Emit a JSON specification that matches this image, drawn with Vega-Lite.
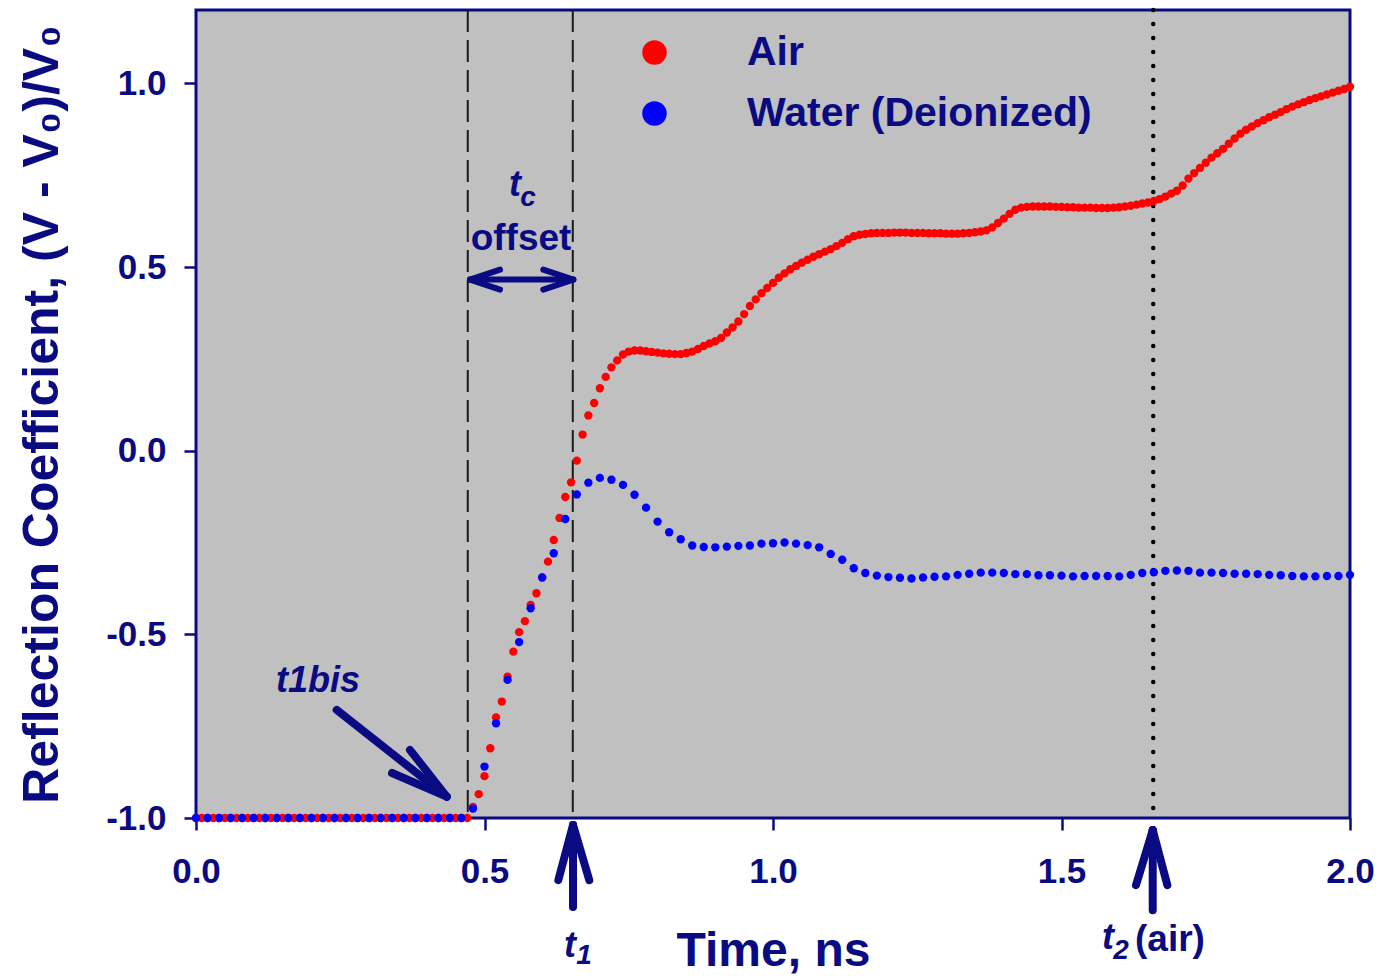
{
"$schema":"https://vega.github.io/schema/vega-lite/v6.json",
"width":1154,"height":808,
"autosize":{"type":"none"},
"padding":{"left":196,"top":10,"right":34,"bottom":162},
"background":"#ffffff",
"config":{
 "view":{"fill":"#c0c0c0","stroke":"#0a0a82","strokeWidth":3},
 "font":"Liberation Sans",
 "axis":{"domain":false,"grid":false,"tickColor":"#0a0a82","tickWidth":2.5,"tickSize":12,"labelFont":"Liberation Sans","labelFontSize":35,"labelFontWeight":"bold","labelColor":"#0a0a82","titleFont":"Liberation Sans","titleFontWeight":"bold","titleColor":"#0a0a82"}
},
"datasets":{
 "dashed":[{"time":0.471},{"time":0.653}],
 "dotted":[{"time":1.659}],
 "air":[
 {"time":0.00,"value":-1},{"time":0.01,"value":-1},{"time":0.02,"value":-1},{"time":0.03,"value":-1},{"time":0.04,"value":-1},{"time":0.05,"value":-1},{"time":0.06,"value":-1},{"time":0.07,"value":-1},{"time":0.08,"value":-1},{"time":0.09,"value":-1},
 {"time":0.10,"value":-1},{"time":0.11,"value":-1},{"time":0.12,"value":-1},{"time":0.13,"value":-1},{"time":0.14,"value":-1},{"time":0.15,"value":-1},{"time":0.16,"value":-1},{"time":0.17,"value":-1},{"time":0.18,"value":-1},{"time":0.19,"value":-1},
 {"time":0.20,"value":-1},{"time":0.21,"value":-1},{"time":0.22,"value":-1},{"time":0.23,"value":-1},{"time":0.24,"value":-1},{"time":0.25,"value":-1},{"time":0.26,"value":-1},{"time":0.27,"value":-1},{"time":0.28,"value":-1},{"time":0.29,"value":-1},
 {"time":0.30,"value":-1},{"time":0.31,"value":-1},{"time":0.32,"value":-1},{"time":0.33,"value":-1},{"time":0.34,"value":-1},{"time":0.35,"value":-1},{"time":0.36,"value":-1},{"time":0.37,"value":-1},{"time":0.38,"value":-1},{"time":0.39,"value":-1},
 {"time":0.40,"value":-1},{"time":0.41,"value":-1},{"time":0.42,"value":-1},{"time":0.43,"value":-1},{"time":0.44,"value":-1},{"time":0.45,"value":-1},{"time":0.46,"value":-1},{"time":0.47,"value":-1},{"time":0.48,"value":-0.97},{"time":0.49,"value":-0.935},
 {"time":0.50,"value":-0.886},{"time":0.51,"value":-0.81},{"time":0.52,"value":-0.726},{"time":0.53,"value":-0.683},{"time":0.54,"value":-0.615},{"time":0.55,"value":-0.547},{"time":0.56,"value":-0.494},{"time":0.57,"value":-0.464},{"time":0.58,"value":-0.42},{"time":0.59,"value":-0.388},
 {"time":0.60,"value":-0.345},{"time":0.61,"value":-0.302},{"time":0.62,"value":-0.243},{"time":0.63,"value":-0.183},{"time":0.64,"value":-0.126},{"time":0.65,"value":-0.086},{"time":0.66,"value":-0.027},{"time":0.67,"value":0.044},{"time":0.68,"value":0.096},{"time":0.69,"value":0.13},
 {"time":0.70,"value":0.17},{"time":0.71,"value":0.201},{"time":0.72,"value":0.227},{"time":0.73,"value":0.246},{"time":0.74,"value":0.262},{"time":0.75,"value":0.27},{"time":0.76,"value":0.273},{"time":0.77,"value":0.273},{"time":0.78,"value":0.271},{"time":0.79,"value":0.269},
 {"time":0.80,"value":0.267},{"time":0.81,"value":0.265},{"time":0.82,"value":0.264},{"time":0.83,"value":0.263},{"time":0.84,"value":0.263},{"time":0.85,"value":0.266},{"time":0.86,"value":0.27},{"time":0.87,"value":0.277},{"time":0.88,"value":0.285},{"time":0.89,"value":0.292},
 {"time":0.90,"value":0.298},{"time":0.91,"value":0.307},{"time":0.92,"value":0.322},{"time":0.93,"value":0.336},{"time":0.94,"value":0.352},{"time":0.95,"value":0.372},{"time":0.96,"value":0.394},{"time":0.97,"value":0.412},{"time":0.98,"value":0.429},{"time":0.99,"value":0.443},
 {"time":1.00,"value":0.457},{"time":1.01,"value":0.471},{"time":1.02,"value":0.483},{"time":1.03,"value":0.494},{"time":1.04,"value":0.503},{"time":1.05,"value":0.512},{"time":1.06,"value":0.52},{"time":1.07,"value":0.528},{"time":1.08,"value":0.535},{"time":1.09,"value":0.542},
 {"time":1.10,"value":0.549},{"time":1.11,"value":0.557},{"time":1.12,"value":0.566},{"time":1.13,"value":0.576},{"time":1.14,"value":0.584},{"time":1.15,"value":0.588},{"time":1.16,"value":0.59},{"time":1.17,"value":0.592},{"time":1.18,"value":0.593},{"time":1.19,"value":0.593},
 {"time":1.20,"value":0.593},{"time":1.21,"value":0.594},{"time":1.22,"value":0.594},{"time":1.23,"value":0.594},{"time":1.24,"value":0.593},{"time":1.25,"value":0.593},{"time":1.26,"value":0.593},{"time":1.27,"value":0.592},{"time":1.28,"value":0.592},{"time":1.29,"value":0.592},
 {"time":1.30,"value":0.591},{"time":1.31,"value":0.591},{"time":1.32,"value":0.591},{"time":1.33,"value":0.592},{"time":1.34,"value":0.593},{"time":1.35,"value":0.595},{"time":1.36,"value":0.597},{"time":1.37,"value":0.6},{"time":1.38,"value":0.608},{"time":1.39,"value":0.62},
 {"time":1.40,"value":0.632},{"time":1.41,"value":0.645},{"time":1.42,"value":0.656},{"time":1.43,"value":0.662},{"time":1.44,"value":0.664},{"time":1.45,"value":0.665},{"time":1.46,"value":0.665},{"time":1.47,"value":0.665},{"time":1.48,"value":0.665},{"time":1.49,"value":0.664},
 {"time":1.50,"value":0.664},{"time":1.51,"value":0.663},{"time":1.52,"value":0.663},{"time":1.53,"value":0.662},{"time":1.54,"value":0.662},{"time":1.55,"value":0.662},{"time":1.56,"value":0.661},{"time":1.57,"value":0.661},{"time":1.58,"value":0.661},{"time":1.59,"value":0.662},
 {"time":1.60,"value":0.663},{"time":1.61,"value":0.665},{"time":1.62,"value":0.667},{"time":1.63,"value":0.67},{"time":1.64,"value":0.673},{"time":1.65,"value":0.676},{"time":1.66,"value":0.68},{"time":1.67,"value":0.685},{"time":1.68,"value":0.692},{"time":1.69,"value":0.7},
 {"time":1.70,"value":0.708},{"time":1.71,"value":0.722},{"time":1.72,"value":0.741},{"time":1.73,"value":0.756},{"time":1.74,"value":0.77},{"time":1.75,"value":0.784},{"time":1.76,"value":0.798},{"time":1.77,"value":0.81},{"time":1.78,"value":0.822},{"time":1.79,"value":0.836},
 {"time":1.80,"value":0.85},{"time":1.81,"value":0.863},{"time":1.82,"value":0.874},{"time":1.83,"value":0.883},{"time":1.84,"value":0.892},{"time":1.85,"value":0.9},{"time":1.86,"value":0.908},{"time":1.87,"value":0.915},{"time":1.88,"value":0.922},{"time":1.89,"value":0.93},
 {"time":1.90,"value":0.937},{"time":1.91,"value":0.943},{"time":1.92,"value":0.949},{"time":1.93,"value":0.955},{"time":1.94,"value":0.96},{"time":1.95,"value":0.965},{"time":1.96,"value":0.97},{"time":1.97,"value":0.975},{"time":1.98,"value":0.98},{"time":1.99,"value":0.985},
 {"time":2.00,"value":0.991}
 ],
 "water":[
 {"time":0.00,"value":-1},{"time":0.02,"value":-1},{"time":0.04,"value":-1},{"time":0.06,"value":-1},{"time":0.08,"value":-1},{"time":0.10,"value":-1},{"time":0.12,"value":-1},{"time":0.14,"value":-1},{"time":0.16,"value":-1},{"time":0.18,"value":-1},
 {"time":0.20,"value":-1},{"time":0.22,"value":-1},{"time":0.24,"value":-1},{"time":0.26,"value":-1},{"time":0.28,"value":-1},{"time":0.30,"value":-1},{"time":0.32,"value":-1},{"time":0.34,"value":-1},{"time":0.36,"value":-1},{"time":0.38,"value":-1},
 {"time":0.40,"value":-1},{"time":0.42,"value":-1},{"time":0.44,"value":-1},{"time":0.46,"value":-1},{"time":0.48,"value":-0.974},{"time":0.50,"value":-0.86},{"time":0.52,"value":-0.742},{"time":0.54,"value":-0.624},{"time":0.56,"value":-0.521},{"time":0.58,"value":-0.429},
 {"time":0.60,"value":-0.345},{"time":0.62,"value":-0.279},{"time":0.64,"value":-0.186},{"time":0.66,"value":-0.119},{"time":0.68,"value":-0.087},{"time":0.70,"value":-0.074},{"time":0.72,"value":-0.079},{"time":0.74,"value":-0.093},{"time":0.76,"value":-0.12},{"time":0.78,"value":-0.155},
 {"time":0.80,"value":-0.193},{"time":0.82,"value":-0.222},{"time":0.84,"value":-0.241},{"time":0.86,"value":-0.258},{"time":0.88,"value":-0.262},{"time":0.90,"value":-0.263},{"time":0.92,"value":-0.261},{"time":0.94,"value":-0.259},{"time":0.96,"value":-0.258},{"time":0.98,"value":-0.253},
 {"time":1.00,"value":-0.252},{"time":1.02,"value":-0.25},{"time":1.04,"value":-0.253},{"time":1.06,"value":-0.257},{"time":1.08,"value":-0.263},{"time":1.10,"value":-0.281},{"time":1.12,"value":-0.297},{"time":1.14,"value":-0.32},{"time":1.16,"value":-0.333},{"time":1.18,"value":-0.34},
 {"time":1.20,"value":-0.344},{"time":1.22,"value":-0.346},{"time":1.24,"value":-0.348},{"time":1.26,"value":-0.345},{"time":1.28,"value":-0.343},{"time":1.30,"value":-0.342},{"time":1.32,"value":-0.338},{"time":1.34,"value":-0.335},{"time":1.36,"value":-0.332},{"time":1.38,"value":-0.332},
 {"time":1.40,"value":-0.333},{"time":1.42,"value":-0.336},{"time":1.44,"value":-0.336},{"time":1.46,"value":-0.339},{"time":1.48,"value":-0.339},{"time":1.50,"value":-0.34},{"time":1.52,"value":-0.342},{"time":1.54,"value":-0.341},{"time":1.56,"value":-0.341},{"time":1.58,"value":-0.341},
 {"time":1.60,"value":-0.342},{"time":1.62,"value":-0.338},{"time":1.64,"value":-0.333},{"time":1.66,"value":-0.331},{"time":1.68,"value":-0.327},{"time":1.70,"value":-0.326},{"time":1.72,"value":-0.327},{"time":1.74,"value":-0.332},{"time":1.76,"value":-0.332},{"time":1.78,"value":-0.333},
 {"time":1.80,"value":-0.335},{"time":1.82,"value":-0.335},{"time":1.84,"value":-0.336},{"time":1.86,"value":-0.338},{"time":1.88,"value":-0.339},{"time":1.90,"value":-0.341},{"time":1.92,"value":-0.342},{"time":1.94,"value":-0.342},{"time":1.96,"value":-0.341},{"time":1.98,"value":-0.341},
 {"time":2.00,"value":-0.338}
 ],
 "arrows":[
 {"x":0.2438,"y":-0.7057,"x2":0.4345,"y2":-0.942},
 {"x":0.3709,"y":-0.8147,"x2":0.4345,"y2":-0.942},
 {"x":0.3397,"y":-0.8774,"x2":0.4345,"y2":-0.942},
 {"x":0.6534,"y":-1.2425,"x2":0.6534,"y2":-1.019},
 {"x":0.628,"y":-1.169,"x2":0.6534,"y2":-1.019},
 {"x":0.6816,"y":-1.169,"x2":0.6534,"y2":-1.019},
 {"x":1.6581,"y":-1.251,"x2":1.6581,"y2":-1.033},
 {"x":1.6291,"y":-1.1826,"x2":1.6581,"y2":-1.033},
 {"x":1.6834,"y":-1.1826,"x2":1.6581,"y2":-1.033}
 ],
 "offsetArrow":[
 {"x":0.4749,"y":0.466,"x2":0.6539,"y2":0.466},
 {"x":0.5269,"y":0.4932,"x2":0.4749,"y2":0.466},
 {"x":0.5269,"y":0.4387,"x2":0.4749,"y2":0.466},
 {"x":0.6019,"y":0.4932,"x2":0.6539,"y2":0.466},
 {"x":0.6019,"y":0.4387,"x2":0.6539,"y2":0.466}
 ],
 "italicLabels":[
 {"x":0.2114,"y":-0.6267,"text":"t1bis"},
 {"x":0.5529,"y":0.7248,"text":"t"},
 {"x":0.6482,"y":-1.3488,"text":"t"},
 {"x":1.5806,"y":-1.327,"text":"t"}
 ],
 "subscripts":[
 {"x":0.5754,"y":0.6894,"text":"c"},
 {"x":0.6724,"y":-1.376,"text":"1"},
 {"x":1.6031,"y":-1.3624,"text":"2"}
 ],
 "plainLabels":[
 {"x":0.5633,"y":0.5777,"text":"offset"},
 {"x":1.688,"y":-1.3324,"text":"(air)"}
 ]
},
"layer":[
 {"data":{"name":"dashed"},"mark":{"type":"rule","strokeDash":[22,8],"strokeWidth":2,"color":"#1a1a1a"},
  "encoding":{"x":{"field":"time","type":"quantitative","scale":{"domain":[0,2],"nice":false,"zero":false},
   "axis":{"values":[0,0.5,1,1.5,2],"labelExpr":"replace(format(datum.value,'.1f'),'\u2212','-')","labelFlush":false,"labelPadding":24,"title":"Time, ns","titleFontSize":48,"titlePadding":38}}}},
 {"data":{"name":"dotted"},"mark":{"type":"rule","strokeDash":[0,14],"strokeCap":"round","strokeWidth":4.5,"color":"#000000"},
  "encoding":{"x":{"field":"time","type":"quantitative","scale":{"domain":[0,2],"nice":false,"zero":false}}}},
 {"data":{"name":"air"},"mark":{"type":"circle","size":70,"opacity":1},
  "encoding":{
   "x":{"field":"time","type":"quantitative","scale":{"domain":[0,2],"nice":false,"zero":false}},
   "y":{"field":"value","type":"quantitative","scale":{"domain":[-1,1.2],"nice":false,"zero":false},
    "axis":{"values":[-1,-0.5,0,0.5,1],"labelExpr":"replace(format(datum.value,'.1f'),'\u2212','-')","labelPadding":18,"title":"Reflection Coefficient, (V - V\u2080)/V\u2080","titleFontSize":50,"titlePadding":38}},
   "color":{"datum":"Air","type":"nominal","scale":{"domain":["Air","Water (Deionized)"],"range":["#ff0000","#0000ff"]},
    "legend":{"orient":"none","legendX":438,"legendY":22,"title":null,"symbolType":"circle","symbolSize":600,"symbolStrokeWidth":0,"symbolOpacity":1,"labelFont":"Liberation Sans","labelFontSize":41,"labelFontWeight":"bold","labelColor":"#0a0a82","labelOffset":72,"rowPadding":19,"padding":0,"labelLimit":700}}}},
 {"data":{"name":"water"},"mark":{"type":"circle","size":70,"opacity":1},
  "encoding":{
   "x":{"field":"time","type":"quantitative","scale":{"domain":[0,2],"nice":false,"zero":false}},
   "y":{"field":"value","type":"quantitative","scale":{"domain":[-1,1.2],"nice":false,"zero":false}},
   "color":{"datum":"Water (Deionized)","type":"nominal"}}},
 {"data":{"name":"arrows"},"mark":{"type":"rule","strokeWidth":8,"strokeCap":"round","color":"#0a0a82"},
  "encoding":{"x":{"field":"x","type":"quantitative"},"y":{"field":"y","type":"quantitative"},"x2":{"field":"x2"},"y2":{"field":"y2"}}},
 {"data":{"name":"offsetArrow"},"mark":{"type":"rule","strokeWidth":6,"strokeCap":"round","color":"#0a0a82"},
  "encoding":{"x":{"field":"x","type":"quantitative"},"y":{"field":"y","type":"quantitative"},"x2":{"field":"x2"},"y2":{"field":"y2"}}},
 {"data":{"name":"italicLabels"},"mark":{"type":"text","font":"Liberation Sans","fontStyle":"italic","fontWeight":"bold","fontSize":36,"color":"#0a0a82","align":"center","baseline":"middle"},
  "encoding":{"x":{"field":"x","type":"quantitative"},"y":{"field":"y","type":"quantitative"},"text":{"field":"text"}}},
 {"data":{"name":"subscripts"},"mark":{"type":"text","font":"Liberation Sans","fontStyle":"italic","fontWeight":"bold","fontSize":28,"color":"#0a0a82","align":"center","baseline":"middle"},
  "encoding":{"x":{"field":"x","type":"quantitative"},"y":{"field":"y","type":"quantitative"},"text":{"field":"text"}}},
 {"data":{"name":"plainLabels"},"mark":{"type":"text","font":"Liberation Sans","fontWeight":"bold","fontSize":37,"color":"#0a0a82","align":"center","baseline":"middle"},
  "encoding":{"x":{"field":"x","type":"quantitative"},"y":{"field":"y","type":"quantitative"},"text":{"field":"text"}}}
]
}
